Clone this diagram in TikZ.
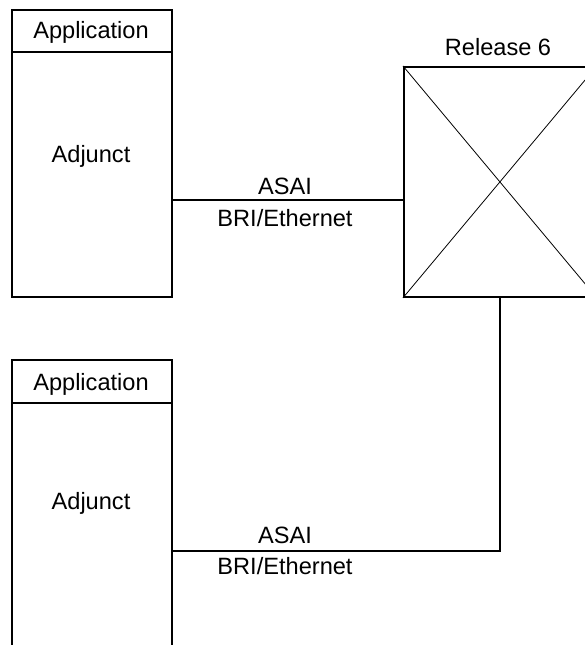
\documentclass[tikz,border=0pt]{standalone}
\usepackage{fontspec}
\setmainfont{Liberation Sans}
\begin{document}
\begin{tikzpicture}[x=1pt,y=-1pt,
  box/.style={draw, line width=1.8pt, inner sep=0pt, minimum width=160pt, anchor=north west},
  conn/.style={line width=1.8pt},
  diag/.style={line width=0.8pt},
  lbl/.style={font=\fontsize{23.6}{27}\selectfont, inner sep=0pt}]
\useasboundingbox (0,0) rectangle (585,645);
% top adjunct
\node[box, minimum height=287pt] (adj1) at (11,9) {};
\draw[conn] ([yshift=-43pt]adj1.north west) -- ([yshift=-43pt]adj1.north east);
\node[lbl] (app1) at (91,32) {Application};
\node[lbl] (adjt1) at (91,156) {Adjunct};
% release 6
\node[box, minimum width=192pt, minimum height=230pt] (rel) at (403,66) {};
\draw[diag] (rel.north west) -- (rel.south east);
\draw[diag] (rel.south west) -- (rel.north east);
\node[lbl] (reltxt) at (498,47) {Release 6};
% connector 1
\coordinate (c1) at (171,200);
\draw[conn] (c1) -- (c1 -| rel.west);
\node[lbl] (asai1) at (285,186) {ASAI};
\node[lbl] (bri1) at (285,218) {BRI/Ethernet};
% bottom adjunct
\node[box, minimum height=300pt] (adj2) at (11,359) {};
\draw[conn] ([yshift=-44pt]adj2.north west) -- ([yshift=-44pt]adj2.north east);
\node[lbl] (app2) at (91,384) {Application};
\node[lbl] (adjt2) at (91,503) {Adjunct};
% connector 2
\coordinate (c2) at (171,551);
\draw[conn] (c2) -- (c2 -| rel.south) -- (rel.south);
\node[lbl] (asai2) at (285,535) {ASAI};
\node[lbl] (bri2) at (285,566) {BRI/Ethernet};
\end{tikzpicture}
\end{document}
